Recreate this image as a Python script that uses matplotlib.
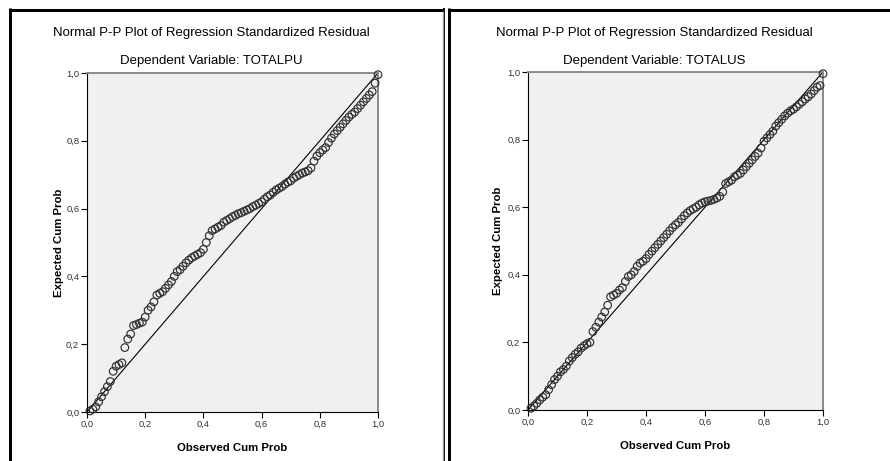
import numpy as np
import matplotlib
matplotlib.use("Agg")
import matplotlib.pyplot as plt
from matplotlib.lines import Line2D
from matplotlib.ticker import FuncFormatter

plt.rcParams['font.family'] = ['Liberation Sans', 'DejaVu Sans']

main_title = "Normal P-P Plot of Regression Standardized Residual"
dep_left = "Dependent Variable: TOTALPU"
dep_right = "Dependent Variable: TOTALUS"
x_label = "Observed Cum Prob"
y_label = "Expected Cum Prob"
ticks = [0.0, 0.2, 0.4, 0.6, 0.8, 1.0]

# Expected cumulative probabilities (sorted residuals), TOTALPU
expected_pu = [
    0.003, 0.008, 0.015, 0.030, 0.045, 0.060, 0.075, 0.090, 0.120, 0.135,
    0.140, 0.145, 0.190, 0.215, 0.230, 0.255, 0.258, 0.262, 0.265, 0.280,
    0.300, 0.310, 0.325, 0.345, 0.350, 0.355, 0.365, 0.375, 0.385, 0.400,
    0.414, 0.420, 0.430, 0.440, 0.448, 0.455, 0.460, 0.465, 0.470, 0.480,
    0.500, 0.520, 0.535, 0.540, 0.545, 0.550, 0.560, 0.565, 0.570, 0.576,
    0.580, 0.585, 0.588, 0.592, 0.596, 0.600, 0.606, 0.610, 0.615, 0.620,
    0.628, 0.635, 0.640, 0.648, 0.655, 0.660, 0.665, 0.672, 0.678, 0.682,
    0.690, 0.695, 0.700, 0.705, 0.708, 0.712, 0.720, 0.740, 0.755, 0.765,
    0.773, 0.780, 0.795, 0.808, 0.820, 0.830, 0.840, 0.850, 0.860, 0.870,
    0.878, 0.885, 0.895, 0.905, 0.915, 0.925, 0.935, 0.945, 0.970, 0.995,
]

# Expected cumulative probabilities (sorted residuals), TOTALUS
expected_us = [
    0.005, 0.012, 0.020, 0.030, 0.038, 0.045, 0.060, 0.075, 0.090, 0.100,
    0.113, 0.120, 0.130, 0.145, 0.155, 0.165, 0.172, 0.183, 0.190, 0.196,
    0.200, 0.232, 0.245, 0.260, 0.275, 0.290, 0.310, 0.335, 0.340, 0.345,
    0.355, 0.362, 0.380, 0.395, 0.400, 0.410, 0.425, 0.435, 0.440, 0.448,
    0.460, 0.470, 0.480, 0.490, 0.500, 0.510, 0.520, 0.530, 0.540, 0.548,
    0.555, 0.565, 0.575, 0.583, 0.590, 0.595, 0.600, 0.607, 0.612, 0.616,
    0.618, 0.620, 0.623, 0.627, 0.632, 0.645, 0.670, 0.675, 0.680, 0.690,
    0.695, 0.700, 0.710, 0.720, 0.730, 0.740, 0.750, 0.760, 0.775, 0.795,
    0.805, 0.815, 0.825, 0.840, 0.850, 0.860, 0.870, 0.878, 0.885, 0.890,
    0.897, 0.905, 0.912, 0.920, 0.927, 0.935, 0.945, 0.955, 0.960, 0.995,
]

W, H = 890, 461
fig = plt.figure(figsize=(W / 100, H / 100), dpi=100)


def px_rect(x0, y0, x1, y1):
    return [x0 / W, 1 - y1 / H, (x1 - x0) / W, (y1 - y0) / H]


comma = FuncFormatter(lambda v, p: f"{v:.1f}".replace(".", ","))


def panel(rect, values, sub, title_cx, ylpad):
    ax = fig.add_axes(rect)
    ax.set_facecolor('#F0F0F0')
    n = len(values)
    obs = np.arange(1, n + 1) / n
    ax.plot([0, 1], [0, 1], color='black', lw=0.8, zorder=2)
    ax.scatter(obs, values, s=30, facecolors='none', edgecolors='#303030',
               linewidths=0.85, zorder=3, clip_on=False)
    ax.set_xlim(0, 1)
    ax.set_ylim(0, 1)
    ax.set_xticks(ticks)
    ax.set_yticks(ticks)
    ax.xaxis.set_major_formatter(comma)
    ax.yaxis.set_major_formatter(comma)
    ax.tick_params(direction='out', length=4, width=0.8, labelsize=6.8,
                   colors='black', labelcolor='#333333', pad=1.5)
    for s in ['top', 'right']:
        ax.spines[s].set_color('#8a8a8a')
        ax.spines[s].set_linewidth(1.4)
    for s in ['left', 'bottom']:
        ax.spines[s].set_color('black')
        ax.spines[s].set_linewidth(0.8)
    ax.set_xlabel(x_label, fontsize=8.2, fontweight='bold', labelpad=10)
    ax.set_ylabel(y_label, fontsize=8.2, fontweight='bold', labelpad=ylpad)
    fig.text(title_cx / W, 1 - 33 / H, main_title, ha='center', va='center',
             fontsize=9.5)
    fig.text(title_cx / W, 1 - 61 / H, sub, ha='center', va='center',
             fontsize=9.5)
    return ax


panel(px_rect(87, 73, 378, 412), expected_pu, dep_left, 211, 1.5)
panel(px_rect(528, 72, 823, 410), expected_us, dep_right, 654, 3)

# panel frames
lw3 = 3 * 72 / 100
lw2 = 2 * 72 / 100


def fline(x0, y0, x1, y1, lw, color='black'):
    fig.add_artist(Line2D([x0 / W, x1 / W], [1 - y0 / H, 1 - y1 / H],
                          lw=lw, color=color, solid_capstyle='butt'))


fline(10, 10, 444, 10, lw3)
fline(10, 8.5, 10, 470, lw3)
fline(444, 8.5, 444, 470, lw2)
fline(442.8, 11, 442.8, 470, 1, '#999999')
fline(448.5, 10, 895, 10, lw3)
fline(448.5, 8.5, 448.5, 470, lw3)

fig.savefig('out.png', dpi=100)
